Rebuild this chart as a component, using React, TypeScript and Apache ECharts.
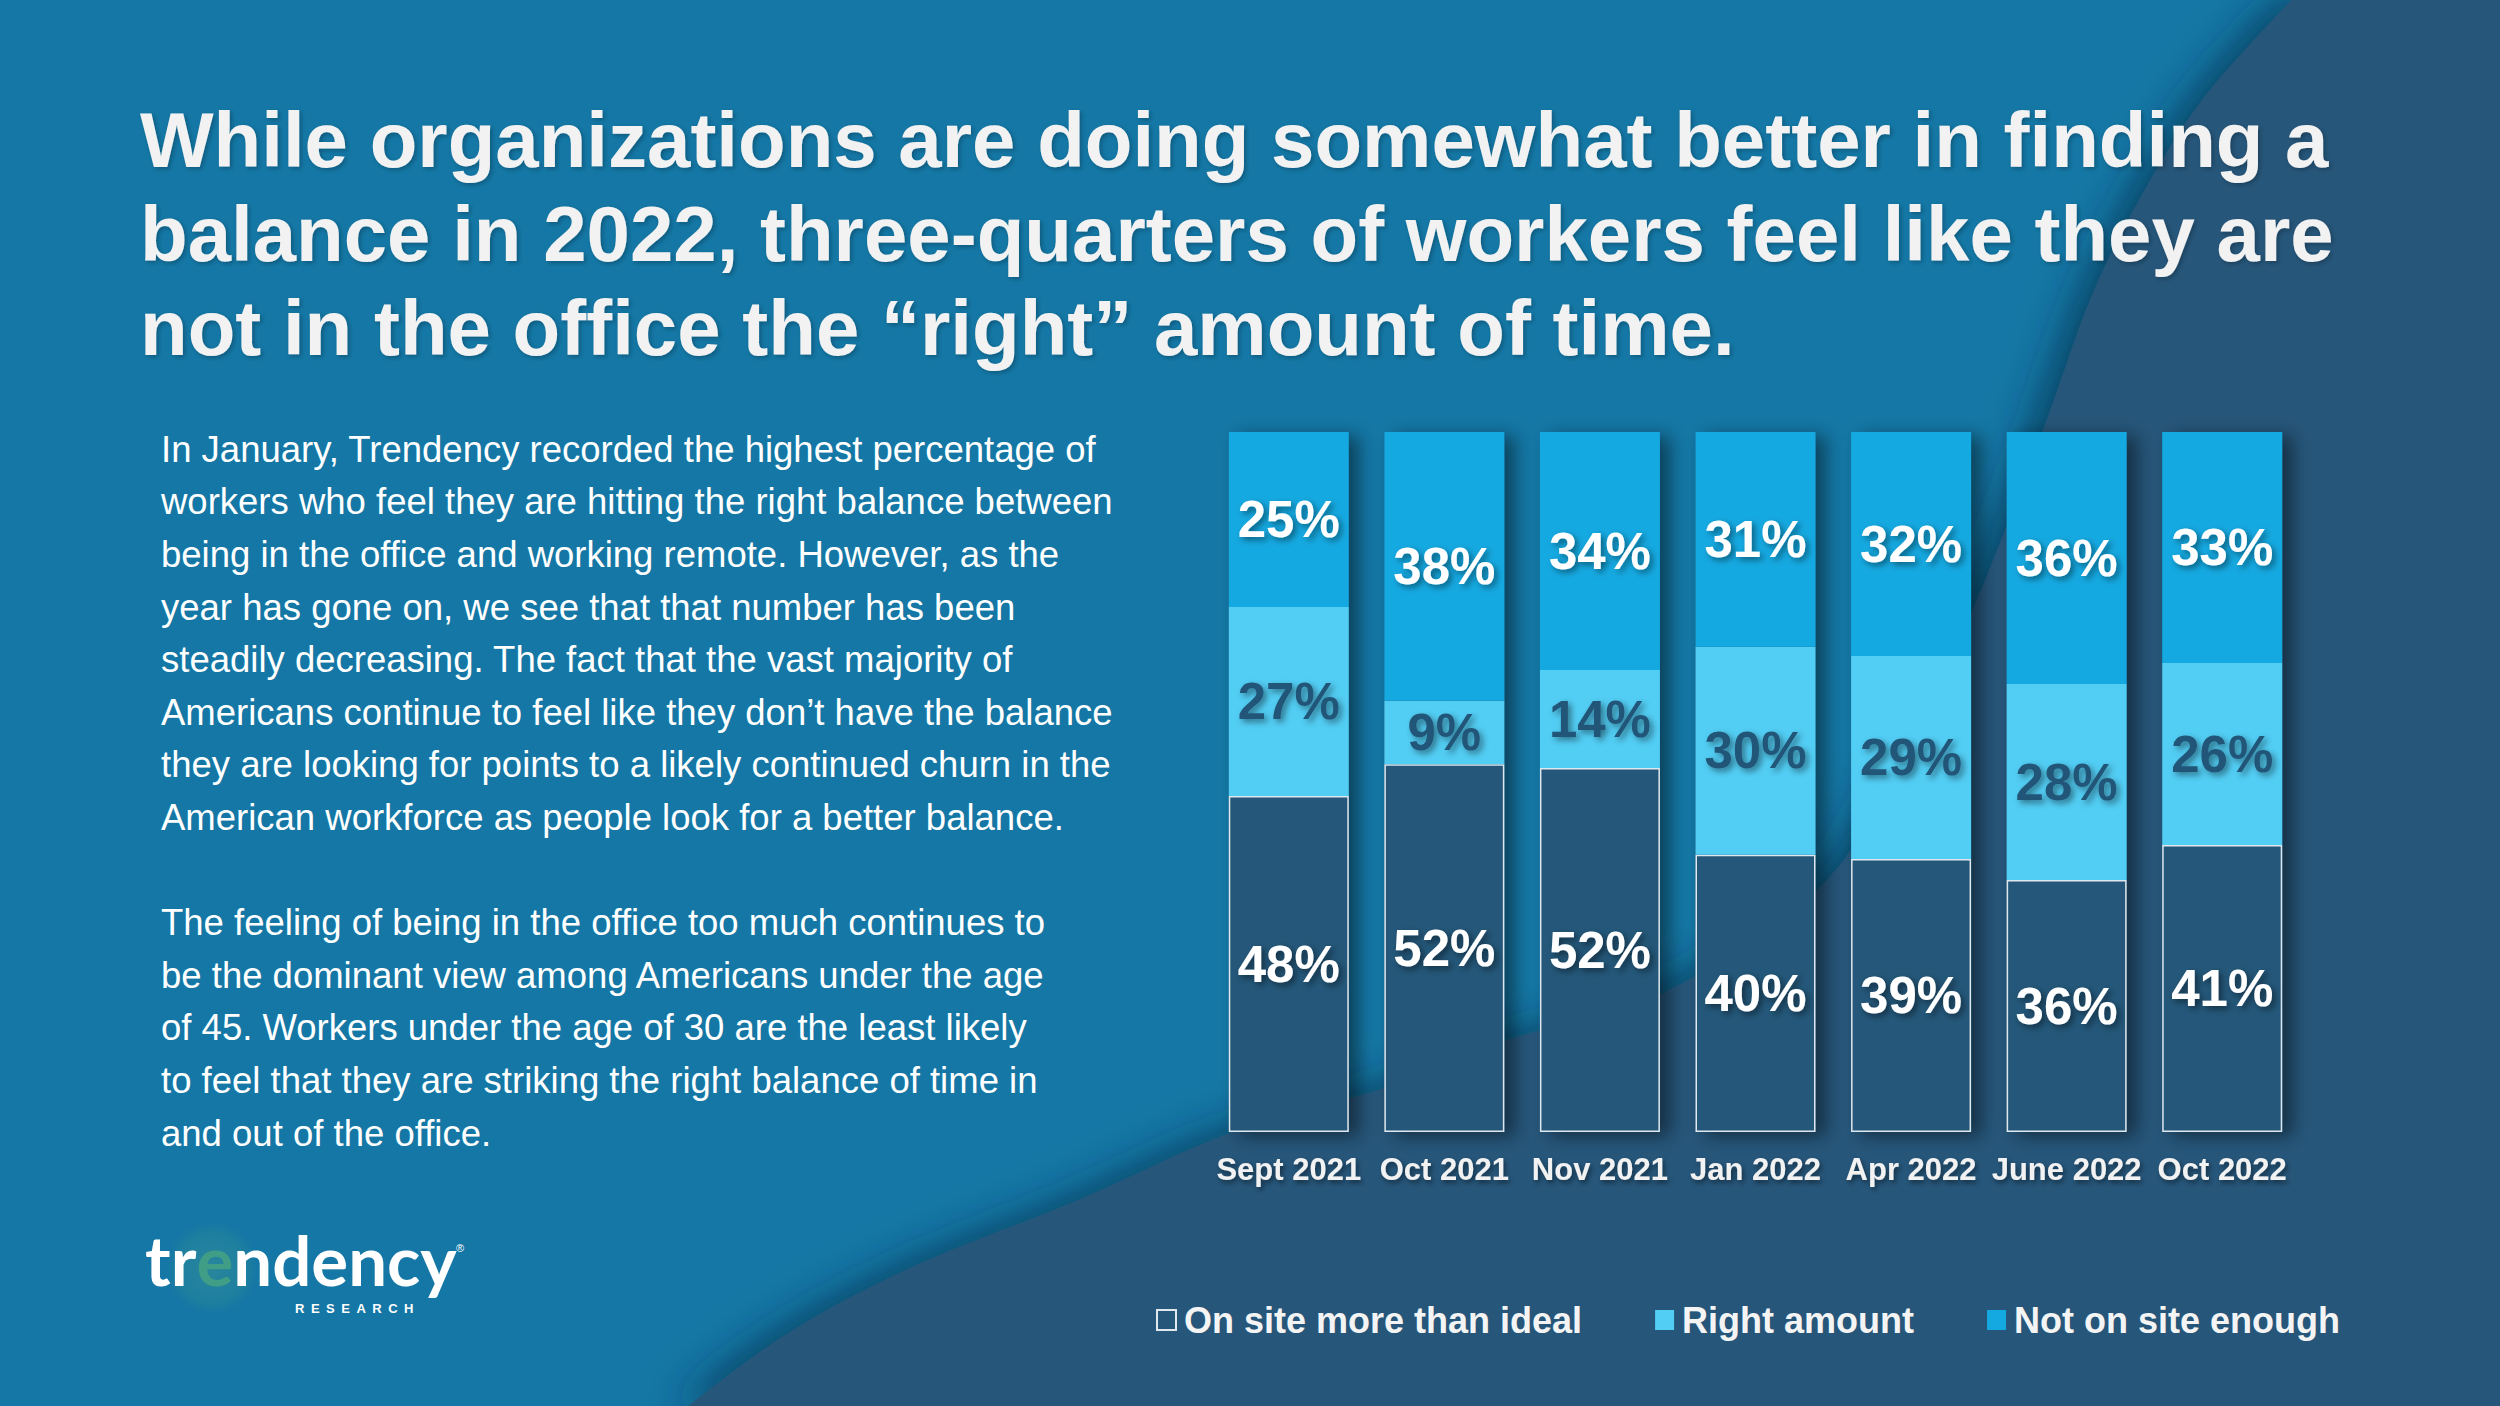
import React, { useEffect, useRef } from "react";
import * as echarts from "echarts";

const categories = ["Sept 2021", "Oct 2021", "Nov 2021", "Jan 2022", "Apr 2022", "June 2022", "Oct 2022"];
const onSiteMore = [48, 52, 52, 40, 39, 36, 41];
const rightAmount = [27, 9, 14, 30, 29, 28, 26];
const notEnough = [25, 38, 34, 31, 32, 36, 33];
const seriesNames = ["On site more than ideal", "Right amount", "Not on site enough"];

const titleLines = [
  "While organizations are doing somewhat better in finding a",
  "balance in 2022, three-quarters of workers feel like they are",
  "not in the office the \u201cright\u201d amount of time.",
];

const bodyLines = [
  "In January, Trendency recorded the highest percentage of",
  "workers who feel they are hitting the right balance between",
  "being in the office and working remote. However, as the",
  "year has gone on, we see that that number has been",
  "steadily decreasing. The fact that the vast majority of",
  "Americans continue to feel like they don\u2019t have the balance",
  "they are looking for points to a likely continued churn in the",
  "American workforce as people look for a better balance.",
  "",
  "The feeling of being in the office too much continues to",
  "be the dominant view among Americans under the age",
  "of 45. Workers under the age of 30 are the least likely",
  "to feel that they are striking the right balance of time in",
  "and out of the office.",
];

const FONT = "'Liberation Sans', Arial, sans-serif";
const LOGO_FONT = "Lato, 'Open Sans', sans-serif";

// decorative background curve (layout, not data)
const curvePts: number[][] = [
  [2291, 0], [2202, 100], [2139, 200], [2090, 300], [2043, 430], [1975, 604],
  [1900, 760], [1820, 887], [1663, 993], [1507, 1040], [1387, 1087], [1230, 1133],
  [1078, 1200], [912, 1267], [788, 1333], [688, 1406],
];

function catmull(pts: number[][]) {
  let d = `M${pts[0][0]},${pts[0][1]}`;
  for (let i = 0; i < pts.length - 1; i++) {
    const p0 = pts[i - 1] || pts[i];
    const p1 = pts[i];
    const p2 = pts[i + 1];
    const p3 = pts[i + 2] || p2;
    const c1x = p1[0] + (p2[0] - p0[0]) / 6;
    const c1y = p1[1] + (p2[1] - p0[1]) / 6;
    const c2x = p2[0] - (p3[0] - p1[0]) / 6;
    const c2y = p2[1] - (p3[1] - p1[1]) / 6;
    d += ` C${c1x.toFixed(1)},${c1y.toFixed(1)} ${c2x.toFixed(1)},${c2y.toFixed(1)} ${p2[0]},${p2[1]}`;
  }
  d += " L2600,1406 L2600,0 Z";
  return d;
}

let registered = false;
function registerShapes() {
  if (registered) return;
  registered = true;
  echarts.graphic.registerShape("darkbg", echarts.graphic.extendPath(catmull(curvePts), {}) as any);
}

export default function App() {
  const ref = useRef<HTMLDivElement>(null);

  useEffect(() => {
    if (!ref.current) return;
    registerShapes();
    const chart = echarts.init(ref.current, null, { renderer: "svg" });

    const totals = categories.map((_, i) => onSiteMore[i] + rightAmount[i] + notEnough[i]);
    const share = (arr: number[]) => arr.map((v, i) => (v / totals[i]) * 100);
    const backdrop = totals.map((t) => (t / t) * 100);

    const labelShadow = {
      textShadowColor: "rgba(0,0,0,0.45)",
      textShadowBlur: 6,
      textShadowOffsetX: 3,
      textShadowOffsetY: 3,
    };

    const mkLabel = (raw: number[], color: string) => ({
      show: true,
      position: "inside",
      formatter: (p: any) => raw[p.dataIndex] + "%",
      color,
      fontSize: 51,
      fontWeight: "bold",
      fontFamily: FONT,
      ...labelShadow,
    });

    const option: any = {
      animation: false,
      backgroundColor: "#1477a5",
      graphic: [
        {
          type: "darkbg",
          x: 0,
          y: 0,
          z: 0,
          silent: true,
          style: {
            fill: "#25577a",
            shadowBlur: 40,
            shadowOffsetX: -12,
            shadowOffsetY: 0,
            shadowColor: "rgba(4,40,62,0.65)",
          },
        },
        {
          type: "text",
          x: 140,
          y: 93,
          z: 100,
          style: {
            text: titleLines.join("\n"),
            fill: "#f2f2f2",
            fontSize: 78,
            fontWeight: "bold",
            fontFamily: FONT,
            lineHeight: 94,
            verticalAlign: "top",
            textShadowColor: "rgba(0,0,0,0.25)",
            textShadowBlur: 4,
            textShadowOffsetX: 2,
            textShadowOffsetY: 2,
          },
        },
        {
          type: "text",
          x: 161,
          y: 423,
          z: 100,
          style: {
            text: bodyLines.join("\n"),
            fill: "#ffffff",
            fontSize: 36.5,
            fontFamily: FONT,
            lineHeight: 52.6,
            verticalAlign: "top",
          },
        },
        {
          type: "circle",
          z: 90,
          silent: true,
          shape: { cx: 212, cy: 1268, r: 46 },
          style: {
            fill: {
              type: "radial",
              x: 0.5,
              y: 0.5,
              r: 0.5,
              colorStops: [
                { offset: 0, color: "rgba(150,210,110,0.16)" },
                { offset: 0.75, color: "rgba(130,200,110,0.10)" },
                { offset: 1, color: "rgba(130,200,110,0)" },
              ],
            },
          },
        },
        {
          type: "text",
          x: 145,
          y: 1288,
          z: 100,
          style: {
            text: "{w|tr}{g|e}{w|ndency}",
            verticalAlign: "bottom",
            rich: {
              w: { fill: "#ffffff", fontSize: 69, lineHeight: 58, fontWeight: "bold", fontFamily: LOGO_FONT },
              g: { fill: "#3f9e85", fontSize: 69, lineHeight: 58, fontWeight: "bold", fontFamily: LOGO_FONT },
            },
          },
        },
        {
          type: "text",
          x: 295,
          y: 1302,
          z: 100,
          style: {
            text: "R\u2002E\u2002S\u2002E\u2002A\u2002R\u2002C\u2002H",
            fill: "#ffffff",
            fontSize: 13,
            fontWeight: "bold",
            fontFamily: FONT,
            verticalAlign: "top",
          },
        },
        {
          type: "text",
          x: 456,
          y: 1248,
          z: 100,
          style: {
            text: "\u00ae",
            fill: "#ffffff",
            fontSize: 11,
            fontFamily: FONT,
            verticalAlign: "middle",
          },
        },
      ],
      legend: {
        data: seriesNames,
        left: 1156,
        top: 1302,
        itemWidth: 19,
        itemHeight: 20,
        itemGap: 73,
        icon: "rect",
        padding: 0,
        textStyle: {
          color: "#f4f4f4",
          fontSize: 36,
          fontWeight: "bold",
          fontFamily: FONT,
          padding: [0, 0, 0, 3],
        },
      },
      grid: { left: 1211, top: 432, width: 1089, height: 700 },
      xAxis: {
        type: "category",
        data: categories,
        axisLine: { show: false },
        axisTick: { show: false },
        axisLabel: {
          interval: 0,
          color: "#f2f2f2",
          fontSize: 31,
          fontWeight: "bold",
          fontFamily: FONT,
          margin: 22,
          textShadowColor: "rgba(0,0,0,0.45)",
          textShadowBlur: 5,
          textShadowOffsetX: 2,
          textShadowOffsetY: 3,
        },
      },
      yAxis: {
        type: "value",
        min: 0,
        max: 100,
        show: false,
        splitLine: { show: false },
      },
      series: [
        {
          name: "backdrop",
          type: "bar",
          stack: "bg",
          barWidth: 120,
          barGap: "-100%",
          silent: true,
          data: backdrop,
          itemStyle: {
            color: "#245779",
            shadowBlur: 18,
            shadowOffsetX: 10,
            shadowOffsetY: 4,
            shadowColor: "rgba(0,0,0,0.45)",
          },
          label: { show: false },
        },
        {
          name: seriesNames[0],
          type: "bar",
          stack: "total",
          barWidth: 120,
          barGap: "-100%",
          data: share(onSiteMore),
          itemStyle: { color: "#245779", borderColor: "#dfe8ee", borderWidth: 1.5 },
          label: mkLabel(onSiteMore, "#ffffff"),
        },
        {
          name: seriesNames[1],
          type: "bar",
          stack: "total",
          barWidth: 120,
          barGap: "-100%",
          data: share(rightAmount),
          itemStyle: { color: "#52cdf4" },
          label: mkLabel(rightAmount, "#245779"),
        },
        {
          name: seriesNames[2],
          type: "bar",
          stack: "total",
          barWidth: 120,
          barGap: "-100%",
          data: share(notEnough),
          itemStyle: { color: "#15a9e1" },
          label: mkLabel(notEnough, "#ffffff"),
        },
      ],
    };

    chart.setOption(option);
    return () => chart.dispose();
  }, []);

  return (
    <div
      ref={ref}
      style={{ position: "absolute", left: 0, top: 0, width: 2500, height: 1406 }}
    />
  );
}
